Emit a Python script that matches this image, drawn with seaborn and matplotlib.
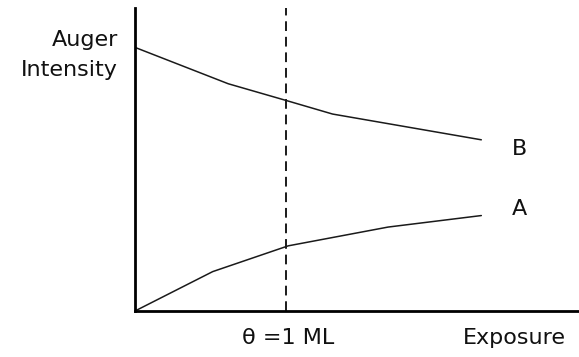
import numpy as np
import pandas as pd
import seaborn as sns
import matplotlib.pyplot as plt

# curve B (substrate signal) and curve A (adsorbate signal), arbitrary units
exposure_b = [0.0, 2.1, 3.4, 4.45, 7.8]
intensity_b = [8.7, 7.5, 6.95, 6.5, 5.65]
exposure_a = [0.0, 1.75, 3.45, 5.7, 7.8]
intensity_a = [0.0, 1.3, 2.15, 2.77, 3.15]
monolayer_x = 3.4

df = pd.concat([
    pd.DataFrame({'exposure': exposure_b, 'intensity': intensity_b, 'curve': 'B'}),
    pd.DataFrame({'exposure': exposure_a, 'intensity': intensity_a, 'curve': 'A'}),
])

sns.set_theme(style='white')
plt.rcParams['font.family'] = ['DejaVu Sans']

fig = plt.figure(figsize=(5.79, 3.57), dpi=100)
ax = fig.add_axes([135 / 579, 46 / 357, 1 - 135 / 579, 303 / 357])
sns.lineplot(data=df, x='exposure', y='intensity', units='curve', estimator=None,
             color='#1a1a1a', linewidth=1.1, sort=False, ax=ax)
ax.axvline(monolayer_x, color='#1a1a1a', linewidth=1.4, linestyle=(0, (5, 3)))

ax.set_xlim(0, 10)
ax.set_ylim(0, 10)
ax.set_xticks([])
ax.set_yticks([])
ax.set_xlabel('')
ax.set_ylabel('')
sns.despine(ax=ax)
for s in ['left', 'bottom']:
    ax.spines[s].set_linewidth(2.0)
    ax.spines[s].set_color('black')
    ax.spines[s].set_capstyle('projecting')

fs = 16
tc = '#111111'
ax.text(exposure_b[-1] + 0.85, intensity_b[-1] - 0.3, 'B', fontsize=fs, ha='center', va='center', color=tc)
ax.text(exposure_a[-1] + 0.85, intensity_a[-1] + 0.2, 'A', fontsize=fs, ha='center', va='center', color=tc)
fig.text(288 / 579, 1 - 338 / 357, 'θ =1 ML', fontsize=fs, ha='center', va='center', color=tc)
fig.text(514 / 579, 1 - 338 / 357, 'Exposure', fontsize=fs, ha='center', va='center', color=tc)
fig.text(118 / 579, 1 - 40 / 357, 'Auger', fontsize=fs, ha='right', va='center', color=tc)
fig.text(118 / 579, 1 - 70 / 357, 'Intensity', fontsize=fs, ha='right', va='center', color=tc)

fig.savefig('out.png', dpi=100)
